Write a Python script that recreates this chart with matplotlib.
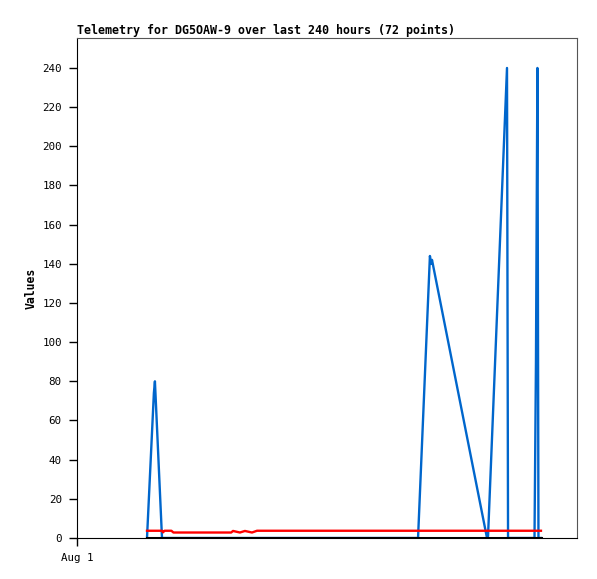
import numpy as np
import matplotlib
matplotlib.use('Agg')
import matplotlib.pyplot as plt

#Data (hours since Aug 1, value)
blue_h = [33.6, 36.9, 37.4, 40.8, 60, 100, 140, 163.7, 169.4, 170.0, 170.4, 196.8, 197.3, 206.4, 206.9, 219.6, 220.3, 221.0, 221.5, 222.7]
blue_v = [0, 74, 80, 0, 0, 0, 0, 0, 144, 140, 142, 0, 1, 240, 0, 0, 90, 240, 0, 0]

red_h = [33.6, 40.8, 41.3, 42.0, 45.3, 46.3, 74.0, 74.9, 78.2, 80.6, 84.0, 86.4, 222.7]
red_v = [3.7, 3.7, 2.9, 3.7, 3.7, 2.8, 2.8, 3.6, 2.8, 3.6, 2.8, 3.7, 3.7]

black_h = [33.6, 222.7]
black_v = [0, 0]

yticks = list(range(0, 241, 20))

fnt = 'DejaVu Sans Mono'

fig = plt.figure(figsize=(5.97, 5.79), dpi=100)
ax = fig.add_axes([77/597, 41/579, 500/597, 500/579])

ax.plot(blue_h, blue_v, color='#0066CC', lw=1.7)
ax.plot(red_h, red_v, color='#FF0000', lw=1.7)
ax.plot(black_h, black_v, color='black', lw=2.2, zorder=3)

ax.set_xlim(0, 240)
ax.set_ylim(0, 255.3)
ax.set_yticks(yticks)
ax.set_yticklabels([str(t) for t in yticks], fontsize=7.8, family=fnt)
ax.set_xticks([0])
ax.set_xticklabels(['Aug 1'], fontsize=7.8, family=fnt)
ax.tick_params(axis='both', direction='out', length=6, width=1, colors='black', pad=5)

for s in ['top', 'right']:
    ax.spines[s].set_color('#555555')
for s in ['left', 'bottom']:
    ax.spines[s].set_color('black')

ax.set_ylabel('Values', fontsize=8.3, fontweight='bold', family=fnt, labelpad=3)
ax.set_title('Telemetry for DG5OAW-9 over last 240 hours (72 points)', fontsize=8.35,
             fontweight='bold', family=fnt, loc='left', pad=3)

fig.savefig('out.png', dpi=100)
